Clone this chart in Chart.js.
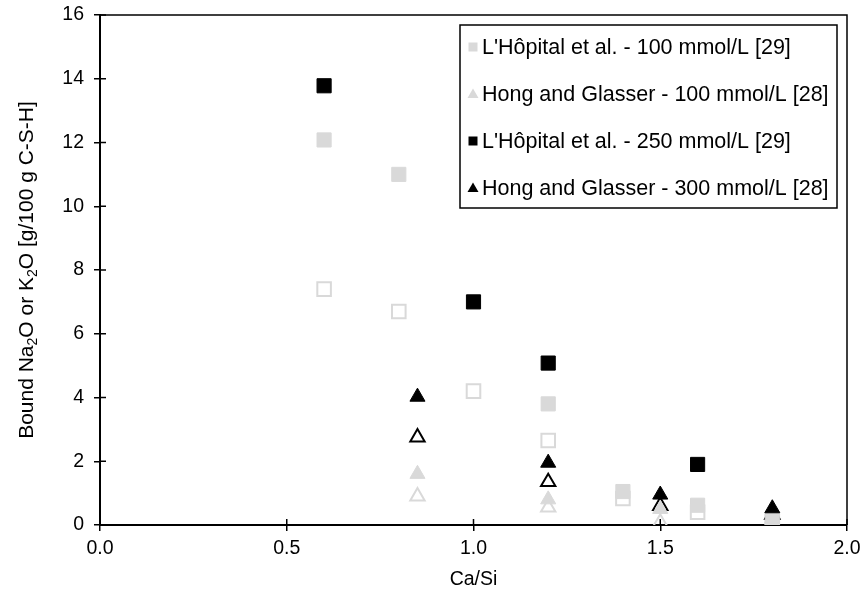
<!DOCTYPE html>
<html>
<head>
<meta charset="utf-8">
<script src="https://cdn.jsdelivr.net/npm/chart.js@4/dist/chart.umd.min.js"></script>
<style>
  html, body { margin: 0; padding: 0; background: #fff; }
  #wrap { width: 862px; height: 603px; }
</style>
</head>
<body>
<div id="wrap"><canvas id="myChart" width="862" height="603"></canvas></div>
<script>
// values (Ca/Si vs bound alkali)
const lhop100X = [0.6, 0.8, 1.2, 1.4, 1.6, 1.8];
const lhop100Y = [12.08, 11.0, 3.8, 1.05, 0.62, 0.2];
const lhop100OpenX = [0.6, 0.8, 1.0, 1.2, 1.4, 1.6, 1.8];
const lhop100OpenY = [7.4, 6.7, 4.2, 2.65, 0.83, 0.4, 0.1];
const lhop250X = [0.6, 1.0, 1.2, 1.6];
const lhop250Y = [13.78, 7.0, 5.08, 1.9];
const hong300X = [0.85, 1.2, 1.5, 1.8];
const hong300Y = [4.02, 1.95, 0.95, 0.52];
const hong300OpenY = [2.75, 1.35, 0.6, 0.33];
const hong100X = [0.85, 1.2, 1.5, 1.8];
const hong100Y = [1.6, 0.8, 0.5, 0.2];
const hong100OpenY = [0.9, 0.55, 0.08, 0.1];

const labels = [
  "L'Hôpital et al. - 100 mmol/L [29]",
  'Hong and Glasser - 100 mmol/L [28]',
  "L'Hôpital et al. - 250 mmol/L [29]",
  'Hong and Glasser - 300 mmol/L [28]',
];

const GRAY = '#d9d9d9';
const FONT = "'Liberation Sans', Arial, sans-serif";

function pts(xs, ys) {
  return xs.map((x, i) => ({ x: x, y: ys[i] }));
}

function filled(label, data, color, style) {
  return {
    label: label, data: data, pointStyle: style,
    pointRadius: style === 'rect' ? 10 : 8.7,
    backgroundColor: color, borderColor: color, borderWidth: 1,
    showLine: false,
  };
}
function hollow(data, color, style) {
  return {
    label: '', data: data, pointStyle: style,
    pointRadius: style === 'rect' ? 9.6 : 8.3,
    backgroundColor: 'rgba(0,0,0,0)', borderColor: color, borderWidth: 2,
    showLine: false,
  };
}

// first dataset is drawn on top
const datasets = [
  filled(labels[2], pts(lhop250X, lhop250Y), '#000', 'rect'),
  filled(labels[3], pts(hong300X, hong300Y), '#000', 'triangle'),
  filled(labels[0], pts(lhop100X, lhop100Y), GRAY, 'rect'),
  filled(labels[1], pts(hong100X, hong100Y), GRAY, 'triangle'),
  hollow(pts(hong300X, hong300OpenY), '#000', 'triangle'),
  hollow(pts(lhop100OpenX, lhop100OpenY), GRAY, 'rect'),
  hollow(pts(hong100X, hong100OpenY), GRAY, 'triangle'),
];

const legendRows = [
  { label: labels[0], color: GRAY, style: 'rect' },
  { label: labels[1], color: GRAY, style: 'triangle' },
  { label: labels[2], color: '#000', style: 'rect' },
  { label: labels[3], color: '#000', style: 'triangle' },
];

const extras = {
  id: 'extras',
  afterDraw(chart) {
    const ctx = chart.ctx;
    const a = chart.chartArea;
    const xs = chart.scales.x, ys = chart.scales.y;
    ctx.save();
    ctx.strokeStyle = '#000';
    // top / right frame
    ctx.lineWidth = 1.5;
    ctx.beginPath();
    ctx.moveTo(a.left, a.top); ctx.lineTo(a.right, a.top); ctx.lineTo(a.right, a.bottom);
    ctx.stroke();
    // inner half of the cross ticks
    ctx.beginPath();
    xs.ticks.forEach((t, i) => {
      const px = xs.getPixelForTick(i);
      ctx.moveTo(px, a.bottom); ctx.lineTo(px, a.bottom - 6);
    });
    ys.ticks.forEach((t, i) => {
      const py = ys.getPixelForTick(i);
      ctx.moveTo(a.left, py); ctx.lineTo(a.left + 6, py);
    });
    ctx.stroke();

    // legend box
    const bx = 460, by = 25, bw = 377, bh = 183;
    ctx.fillStyle = '#fff';
    ctx.fillRect(bx, by, bw, bh);
    ctx.lineWidth = 1.5;
    ctx.strokeRect(bx, by, bw, bh);
    ctx.font = '21.5px ' + FONT;
    ctx.textBaseline = 'middle';
    legendRows.forEach((r, i) => {
      const cy = by + 22 + i * 47;
      const cx = 473;
      ctx.fillStyle = r.color;
      ctx.beginPath();
      if (r.style === 'rect') {
        ctx.rect(cx - 4.5, cy - 4.5, 9, 9);
      } else {
        ctx.moveTo(cx, cy - 5.5); ctx.lineTo(cx + 5.5, cy + 4); ctx.lineTo(cx - 5.5, cy + 4);
        ctx.closePath();
      }
      ctx.fill();
      ctx.fillStyle = '#000';
      ctx.textAlign = 'left';
      ctx.fillText(r.label, 482, cy + 1);
    });

    // y title with subscripts
    const parts = [['Bound Na', 0], ['2', 1], ['O or K', 0], ['2', 1], ['O [g/100 g C-S-H]', 0]];
    const big = '21px ' + FONT, small = '14px ' + FONT;
    let total = 0;
    parts.forEach(p => { ctx.font = p[1] ? small : big; total += ctx.measureText(p[0]).width; });
    ctx.translate(25, (a.top + a.bottom) / 2);
    ctx.rotate(-Math.PI / 2);
    ctx.textAlign = 'left';
    ctx.textBaseline = 'alphabetic';
    let x = -total / 2;
    parts.forEach(p => {
      ctx.font = p[1] ? small : big;
      ctx.fillText(p[0], x, p[1] ? 12 : 8);
      x += ctx.measureText(p[0]).width;
    });
    ctx.restore();
  },
};

document.addEventListener('DOMContentLoaded', () => {
  const ctx = document.getElementById('myChart');
  new Chart(ctx, {
    type: 'scatter',
    data: { datasets: datasets },
    plugins: [extras],
    options: {
      responsive: false,
      animation: false,
      layout: { padding: { top: 15, right: 15, left: 0, bottom: 0 } },
      plugins: { legend: { display: false }, tooltip: { enabled: false } },
      scales: {
        x: {
          type: 'linear', min: 0, max: 2,
          afterFit: s => { s.height = 78; s.paddingRight = 0; s.paddingLeft = 0; },
          ticks: {
            stepSize: 0.5, color: '#000', padding: 6,
            font: { family: FONT, size: 19.5 },
            callback: v => v.toFixed(1),
          },
          grid: { drawOnChartArea: false, drawTicks: true, tickLength: 6, color: '#000', lineWidth: 1.5 },
          border: { display: true, color: '#000', width: 2 },
          title: {
            display: true, text: 'Ca/Si', color: '#000',
            font: { family: FONT, size: 19.5 }, padding: { top: 0, bottom: 12 },
          },
        },
        y: {
          min: 0, max: 16,
          afterFit: s => { s.width = 100; s.paddingTop = 0; s.paddingBottom = 0; },
          ticks: {
            stepSize: 2, color: '#000', padding: 10,
            font: { family: FONT, size: 19.5 },
          },
          grid: { drawOnChartArea: false, drawTicks: true, tickLength: 6, color: '#000', lineWidth: 1.5 },
          border: { display: true, color: '#000', width: 2 },
        },
      },
    },
  });
});
</script>
</body>
</html>
